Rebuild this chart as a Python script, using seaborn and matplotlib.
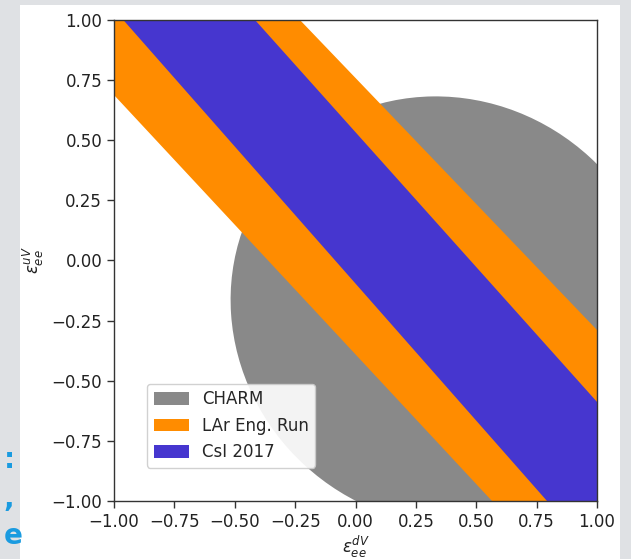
import numpy as np
import matplotlib
matplotlib.use("Agg")
import matplotlib.pyplot as plt
import seaborn as sns
from matplotlib.patches import Ellipse, Rectangle

sns.set_style("ticks")
plt.rcParams['font.family'] = ['DejaVu Sans']
plt.rcParams['mathtext.fontset'] = 'dejavusans'

# --- data ---
labels = ["CHARM", "LAr Eng. Run", "CsI 2017"]
colors = ["#898989", "#ff8c00", "#4636cf"]

# CHARM allowed region (ellipse): centre, full width/height, rotation
charm_center = (0.380, -0.211)
charm_width = 1.742
charm_height = 1.838
charm_angle = 47.3

# band edges evaluated at eps_d = -1 and eps_d = +1
edge_x = [-1.0, 1.0]
lar_lower = [0.688, -1.469]
lar_upper = [1.807, -0.289]
csi_lower = [1.044, -1.236]
csi_upper = [1.655, -0.588]

fig = plt.figure(figsize=(6.31, 5.59), dpi=100)
fig.patch.set_facecolor('#dfe1e4')
fig.patches.append(Rectangle((0.0317, 0.0), 0.951, 0.991, transform=fig.transFigure,
                             facecolor='white', edgecolor='none', zorder=-1))
ax = fig.add_axes([0.1807, 0.1038, 0.7654, 0.8604])

ax.add_patch(Ellipse(charm_center, charm_width, charm_height, angle=charm_angle,
                     facecolor=colors[0], edgecolor='none', label=labels[0], zorder=1))
ax.fill_between(edge_x, lar_lower, lar_upper, facecolor=colors[1], edgecolor='none',
                label=labels[1], zorder=2)
ax.fill_between(edge_x, csi_lower, csi_upper, facecolor=colors[2], edgecolor='none',
                label=labels[2], zorder=3)

ax.set_xlim(-1, 1)
ax.set_ylim(-1, 1)
ticks = [-1.0, -0.75, -0.5, -0.25, 0.0, 0.25, 0.5, 0.75, 1.0]
ax.set_xticks(ticks)
ax.set_yticks(ticks)
ax.set_xticklabels([f"{t:.2f}".replace("-", "\u2212") for t in ticks])
ax.set_yticklabels([f"{t:.2f}".replace("-", "\u2212") for t in ticks])
ax.tick_params(labelsize=12, length=5, width=1, color='#333333', labelcolor='#222222')
for s in ax.spines.values():
    s.set_linewidth(1.0)
    s.set_color('#333333')
    s.set_zorder(5)
ax.set_xlabel(r"$\epsilon_{ee}^{dV}$", fontsize=12, labelpad=2, color='#222222')
ax.set_ylabel(r"$\epsilon_{ee}^{uV}$", fontsize=12, labelpad=4, color='#222222')

leg = ax.legend(loc='lower left', bbox_to_anchor=(0.068, 0.069), borderaxespad=0,
                fontsize=12, frameon=True, fancybox=True, framealpha=0.9,
                edgecolor='#cccccc', handleheight=0.8, handlelength=2.1)

# cut-off slide text at the left edge
for ytxt, s in [(0.177, ":"), (0.107, ","), (0.042, "e")]:
    fig.text(0.006, ytxt, s, fontsize=20, fontweight='bold', color='#1a9be0',
             ha='left', va='center')

fig.savefig("out.png", dpi=100, facecolor=fig.get_facecolor())
